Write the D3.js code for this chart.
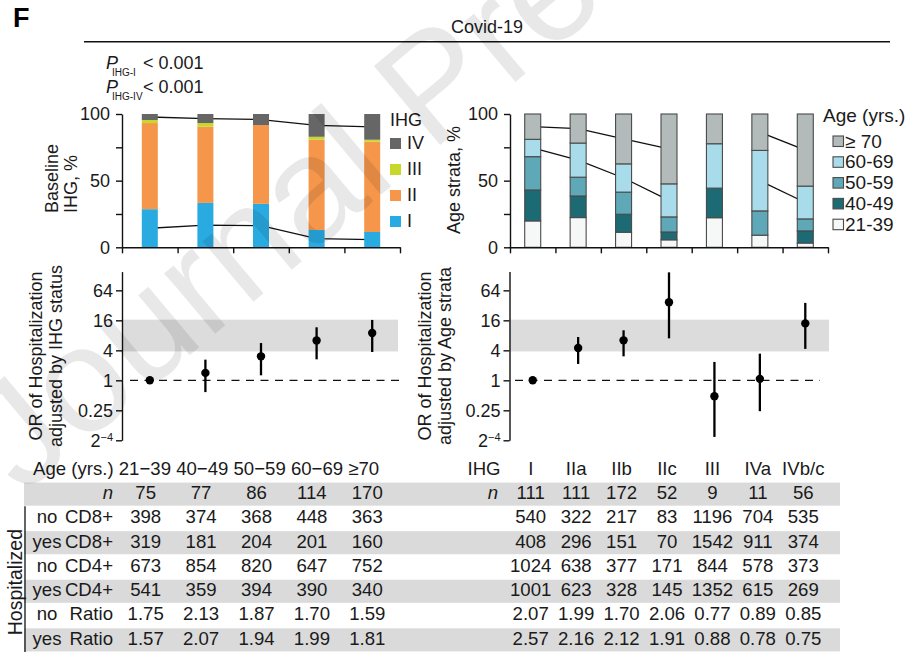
<!DOCTYPE html>
<html><head><meta charset="utf-8">
<script src="https://cdn.jsdelivr.net/npm/d3@7/dist/d3.min.js"></script>
<style>
body{margin:0;background:#fff}
svg text{font-family:"Liberation Sans",Arial,Helvetica,sans-serif;fill:#1a1a1a}
</style>
</head><body>
<svg id="c" width="906" height="667"></svg>
<script>
// ---------------- DATA ----------------
const ageGroups = ["21−39","40−49","50−59","60−69","≥70"];
const ihgLevels = ["I","II","III","IV"];
// Baseline IHG (%) per age group
const ihgI   = [28.6, 33.3, 32.6, 13.0, 11.5];
const ihgII  = [64.6, 57.2, 59.1, 67.7, 67.7];
const ihgIII = [ 2.3,  2.7,  0.0,  2.2,  1.5];
const ihgIV  = [ 4.5,  6.8,  8.3, 17.1, 19.3];

const ihgGroups = ["I","IIa","IIb","IIc","III","IVa","IVb/c"];
const ageKeys = ["21-39","40-49","50-59","60-69","≥ 70"];
// Age strata (%) per IHG group
const age21_39 = [19.8, 22.3, 11.3,  5.6, 22.2,  9.1,  3.2];
const age40_49 = [23.2, 16.2, 13.5,  5.9, 22.2,  0.0,  9.1];
const age50_59 = [25.0, 14.1, 16.6, 11.3,  0.0, 18.2,  9.0];
const age60_69 = [13.0, 25.6, 21.2, 24.8, 33.3, 45.4, 24.6];
const age70    = [19.0, 21.8, 37.4, 52.4, 22.3, 27.3, 54.1];
const ageConnectorRuns = [["I","IIa","IIb","IIc"],["IVa","IVb/c"]];

// Odds ratios of hospitalization
const orByAge   = [1, 1.41, 3.03, 6.3, 8.9];
const orByAgeLo = [null, 0.58, 1.26, 2.64, 3.7];
const orByAgeHi = [null, 2.6, 5.6, 11.6, 16.3];
const orByIHG   = [1, 4.47, 6.35, 36.8, 0.48, 1.07, 13.9];
const orByIHGLo = [null, 2.13, 3.03, 6.96, 0.073, 0.24, 4.27];
const orByIHGHi = [null, 7.4, 10.1, 147, 2.34, 3.43, 35.8];
const orBand = [3.8, 16.5];
const orTicks = [1/16, 0.25, 1, 4, 16, 64];

// Table
const rowHosp  = ["", "no","yes","no","yes","no","yes"];
const rowLabel = ["n","CD8+","CD8+","CD4+","CD4+","Ratio","Ratio"];
const tabAge = [
  ["75","77","86","114","170"],
  ["398","374","368","448","363"],
  ["319","181","204","201","160"],
  ["673","854","820","647","752"],
  ["541","359","394","390","340"],
  ["1.75","2.13","1.87","1.70","1.59"],
  ["1.57","2.07","1.94","1.99","1.81"]
];
const tabIHG = [
  ["111","111","172","52","9","11","56"],
  ["540","322","217","83","1196","704","535"],
  ["408","296","151","70","1542","911","374"],
  ["1024","638","377","171","844","578","373"],
  ["1001","623","328","145","1352","615","269"],
  ["2.07","1.99","1.70","2.06","0.77","0.89","0.85"],
  ["2.57","2.16","2.12","1.91","0.88","0.78","0.75"]
];

// ---------------- STYLE ----------------
const ihgColors = {"I":"#29abe2","II":"#f5964b","III":"#c8d82a","IV":"#666666"};
const ageColors = {"21-39":"#f6f8f8","40-49":"#1b6a74","50-59":"#5ea8b8","60-69":"#a8dcea","≥ 70":"#b2bbb9"};
const FS = 18;

const svg = d3.select("#c");

// header
svg.append("text").attr("x",13).attr("y",27).style("font-size","27px").style("font-weight","bold").style("fill","#000").text("F");
svg.append("text").attr("x",487).attr("y",33).attr("text-anchor","middle").style("font-size",FS+"px").text("Covid-19");
svg.append("line").attr("x1",84).attr("x2",890).attr("y1",41.7).attr("y2",41.7).attr("stroke","#111").attr("stroke-width",1.4);

function pLine(y, sub){
  svg.append("text").attr("x",106).attr("y",y).style("font-size",FS+"px").style("font-style","italic").text("P");
  svg.append("text").attr("x",112).attr("y",y+7).style("font-size","10px").text(sub);
  svg.append("text").attr("x",143).attr("y",y).style("font-size",FS+"px").text("< 0.001");
}
pLine(68.5,"IHG-I");
pLine(93,"IHG-IV");

// ---------------- SCALES ----------------
const yPct = d3.scaleLinear().domain([0,100]).range([247.3,114]);
const xL = d3.scaleBand().domain(ageGroups).range([122,400]);
const xR = d3.scaleBand().domain(ihgGroups).range([510,828]);
const barW = 16;
const cx = (sc,d)=>sc(d)+sc.bandwidth()/2;
const yOR = d3.scaleLog().base(2).domain([Math.pow(2,-4),Math.pow(2,7.25)]).range([440.3,271.6]);

function styleAxis(g){
  g.select(".domain").attr("stroke","#111").attr("stroke-width",1.4);
  g.selectAll(".tick line").attr("stroke","#111").attr("stroke-width",1.4);
  g.selectAll(".tick text").style("font-size",FS+"px").style("fill","#1a1a1a").attr("font-family",null);
}

// ---------------- TOP LEFT: stacked IHG ----------------
const rowsL = ageGroups.map((g,i)=>({g, I:ihgI[i], II:ihgII[i], III:ihgIII[i], IV:ihgIV[i]}));
const stackL = d3.stack().keys(ihgLevels)(rowsL);
const lineGen = d3.line().x(d=>d.x).y(d=>d.y);
["I","IV"].forEach(k=>{
  const s = stackL.find(l=>l.key===k);
  const pts = s.map(d=>({x:cx(xL,d.data.g), y:yPct((d[0]+d[1])/2)}));
  svg.append("path").attr("d",lineGen(pts)).attr("fill","none").attr("stroke","#111").attr("stroke-width",1.3);
});
stackL.forEach(layer=>{
  svg.append("g").selectAll("rect").data(layer).join("rect")
    .attr("x",d=>cx(xL,d.data.g)-barW/2).attr("width",barW)
    .attr("y",d=>yPct(d[1])).attr("height",d=>yPct(d[0])-yPct(d[1]))
    .attr("fill",ihgColors[layer.key]);
});
const gyl = svg.append("g").attr("transform","translate(122,0)")
  .call(d3.axisLeft(yPct).tickValues([0,25,50,75,100]).tickFormat(d=>d%50===0?d:"").tickSize(6).tickSizeOuter(0).tickPadding(6));
styleAxis(gyl);
const xLi = d3.scaleLinear().domain([0,ageGroups.length]).range(xL.range());
const gxl = svg.append("g").attr("transform","translate(0,247.3)")
  .call(d3.axisBottom(xLi).ticks(ageGroups.length).tickFormat("").tickSize(6).tickSizeOuter(0));
styleAxis(gxl);
[["Baseline",58],["IHG, %",77]].forEach(([t,x])=>{
  svg.append("text").attr("transform",`translate(${x},213) rotate(-90)`).style("font-size",FS+"px").text(t);
});
svg.append("text").attr("x",390).attr("y",126).style("font-size",FS+"px").text("IHG");
ihgLevels.slice().reverse().forEach((k,i)=>{
  const y = 138 + i*26;
  svg.append("rect").attr("x",390).attr("y",y).attr("width",11).attr("height",11).attr("fill",ihgColors[k]);
  svg.append("text").attr("x",407).attr("y",y+11).style("font-size",FS+"px").text(k);
});

// ---------------- TOP RIGHT: stacked age strata ----------------
const ageArrs = [age21_39, age40_49, age50_59, age60_69, age70];
const rowsR = ihgGroups.map((g,i)=>{const o={g}; ageKeys.forEach((k,j)=>o[k]=ageArrs[j][i]); return o;});
const stackR = d3.stack().keys(ageKeys)(rowsR);
["60-69","≥ 70"].forEach(k=>{
  const s = stackR.find(l=>l.key===k);
  ageConnectorRuns.forEach(run=>{
    const pts = s.filter(d=>run.includes(d.data.g)).map(d=>({x:cx(xR,d.data.g), y:yPct((d[0]+d[1])/2)}));
    svg.append("path").attr("d",lineGen(pts)).attr("fill","none").attr("stroke","#111").attr("stroke-width",1.3);
  });
});
stackR.forEach(layer=>{
  svg.append("g").selectAll("rect").data(layer.filter(d=>d[1]-d[0]>0)).join("rect")
    .attr("x",d=>cx(xR,d.data.g)-barW/2).attr("width",barW)
    .attr("y",d=>yPct(d[1])).attr("height",d=>yPct(d[0])-yPct(d[1]))
    .attr("fill",ageColors[layer.key]).attr("stroke","#4a4a4a").attr("stroke-width",1.1);
});
const gyr = svg.append("g").attr("transform","translate(510,0)")
  .call(d3.axisLeft(yPct).tickValues([0,25,50,75,100]).tickFormat(d=>d%50===0?d:"").tickSize(6).tickSizeOuter(0).tickPadding(6));
styleAxis(gyr);
const xRi = d3.scaleLinear().domain([0,ihgGroups.length]).range(xR.range());
const gxr = svg.append("g").attr("transform","translate(0,247.3)")
  .call(d3.axisBottom(xRi).ticks(ihgGroups.length).tickFormat("").tickSize(6).tickSizeOuter(0));
styleAxis(gxr);
svg.append("text").attr("transform","translate(460,180) rotate(-90)").attr("text-anchor","middle").style("font-size",FS+"px").text("Age strata, %");
svg.append("text").attr("x",823).attr("y",121.5).style("font-size","19px").text("Age (yrs.)");
ageKeys.slice().reverse().forEach((k,i)=>{
  const y = 136 + i*20.8;
  svg.append("rect").attr("x",833).attr("y",y).attr("width",10.5).attr("height",10.5).attr("fill",ageColors[k]).attr("stroke","#4a4a4a").attr("stroke-width",1.1);
  svg.append("text").attr("x",845).attr("y",y+11.5).style("font-size","19px").text(k);
});

// ---------------- OR charts ----------------
function orChart(xs, groups, vals, lo, hi, axisX, dashFrom, dashTo, bandTo, labels, labelX){
  svg.append("rect").attr("x",axisX).attr("width",bandTo-axisX)
    .attr("y",yOR(orBand[1])).attr("height",yOR(orBand[0])-yOR(orBand[1])).attr("fill","#dcdcdc");
  svg.append("line").attr("x1",dashFrom).attr("x2",dashTo).attr("y1",yOR(1)).attr("y2",yOR(1))
    .attr("stroke","#111").attr("stroke-width",1.3).attr("stroke-dasharray","8,6.5");
  const g = svg.append("g").attr("transform",`translate(${axisX},0)`)
    .call(d3.axisLeft(yOR).tickValues(orTicks).tickFormat(d=>d===1/16?"2":(d===0.25?"0.25":d3.format("d")(d))).tickSize(6).tickSizeOuter(0).tickPadding(3));
  styleAxis(g);
  g.selectAll(".tick text").filter(d=>d===1/16).append("tspan").attr("dy",-6).style("font-size","11px").text("−4");
  const data = groups.map((grp,i)=>({grp, v:vals[i], lo:lo[i], hi:hi[i]}));
  svg.append("g").selectAll("line").data(data.filter(d=>d.lo!=null)).join("line")
    .attr("x1",d=>cx(xs,d.grp)).attr("x2",d=>cx(xs,d.grp))
    .attr("y1",d=>yOR(d.lo)).attr("y2",d=>yOR(d.hi)).attr("stroke","#000").attr("stroke-width",2.3);
  svg.append("g").selectAll("circle").data(data).join("circle")
    .attr("cx",d=>cx(xs,d.grp)).attr("cy",d=>yOR(d.v)).attr("r",4.2).attr("fill","#000");
  labels.forEach((t,i)=>{
    svg.append("text").attr("transform",`translate(${labelX[i]},356) rotate(-90)`).attr("text-anchor","middle").style("font-size",FS+"px").text(t);
  });
}
orChart(xL, ageGroups, orByAge, orByAgeLo, orByAgeHi, 122, 130, 400, 398,
  ["OR of Hospitalization","adjusted by IHG status"], [42,62]);
orChart(xR, ihgGroups, orByIHG, orByIHGLo, orByIHGHi, 509.5, 515, 820, 829,
  ["OR of Hospitalization","adjusted by Age strata"], [431,451]);

// ---------------- TABLE ----------------
const rowY = d3.scaleBand().domain(d3.range(-1,7)).range([457.7,652]);
const tcL = d3.scaleBand().domain(ageGroups).range([118,395]);
const tcR = d3.scaleBand().domain(ihgGroups).range([508,826]);
const TFS = "18.6px";
[0,2,4,6].forEach(r=>{
  svg.append("rect").attr("x",24).attr("width",816).attr("y",rowY(r)+0.6).attr("height",rowY.bandwidth()-1.2).attr("fill","#dadada");
});
const base = r=>rowY(r)+17;
// headers
svg.append("text").attr("x",33).attr("y",base(-1)).style("font-size",TFS).text("Age (yrs.) "+ageGroups.join(" "));
svg.append("text").attr("x",484).attr("y",base(-1)).attr("text-anchor","middle").style("font-size",TFS).text("IHG");
ihgGroups.forEach(g=>svg.append("text").attr("x",cx(tcR,g)).attr("y",base(-1)).attr("text-anchor","middle").style("font-size",TFS).text(g));
// row labels
rowLabel.forEach((l,r)=>{
  const t = svg.append("text").attr("x",113).attr("y",base(r)).attr("text-anchor","end").style("font-size",TFS).text(l);
  if(l==="n") t.style("font-style","italic");
  if(rowHosp[r]) svg.append("text").attr("x",47).attr("y",base(r)).attr("text-anchor","middle").style("font-size",TFS).text(rowHosp[r]);
});
svg.append("text").attr("x",498).attr("y",base(0)).attr("text-anchor","end").style("font-size",TFS).style("font-style","italic").text("n");
// values
tabAge.forEach((row,r)=>row.forEach((v,c)=>{
  svg.append("text").attr("x",cx(tcL,ageGroups[c])).attr("y",base(r)).attr("text-anchor","middle").style("font-size",TFS).text(v);
}));
tabIHG.forEach((row,r)=>row.forEach((v,c)=>{
  svg.append("text").attr("x",cx(tcR,ihgGroups[c])).attr("y",base(r)).attr("text-anchor","middle").style("font-size",TFS).text(v);
}));
// hospitalized bracket
svg.append("line").attr("x1",25).attr("x2",25).attr("y1",rowY(1)).attr("y2",rowY(6)+rowY.bandwidth()).attr("stroke","#111").attr("stroke-width",1.3);
svg.append("text").attr("transform",`translate(22,${(rowY(1)+rowY(6)+rowY.bandwidth())/2+3}) rotate(-90)`).attr("text-anchor","middle").style("font-size","19.5px").text("Hospitalized");

// ---------------- WATERMARK ----------------
svg.append("text").attr("transform","translate(22,496) rotate(-40)")
  .style("font-size","150px").style("fill","#000").style("fill-opacity",0.09).text("Journal Pre-proof");
</script>
</body></html>
